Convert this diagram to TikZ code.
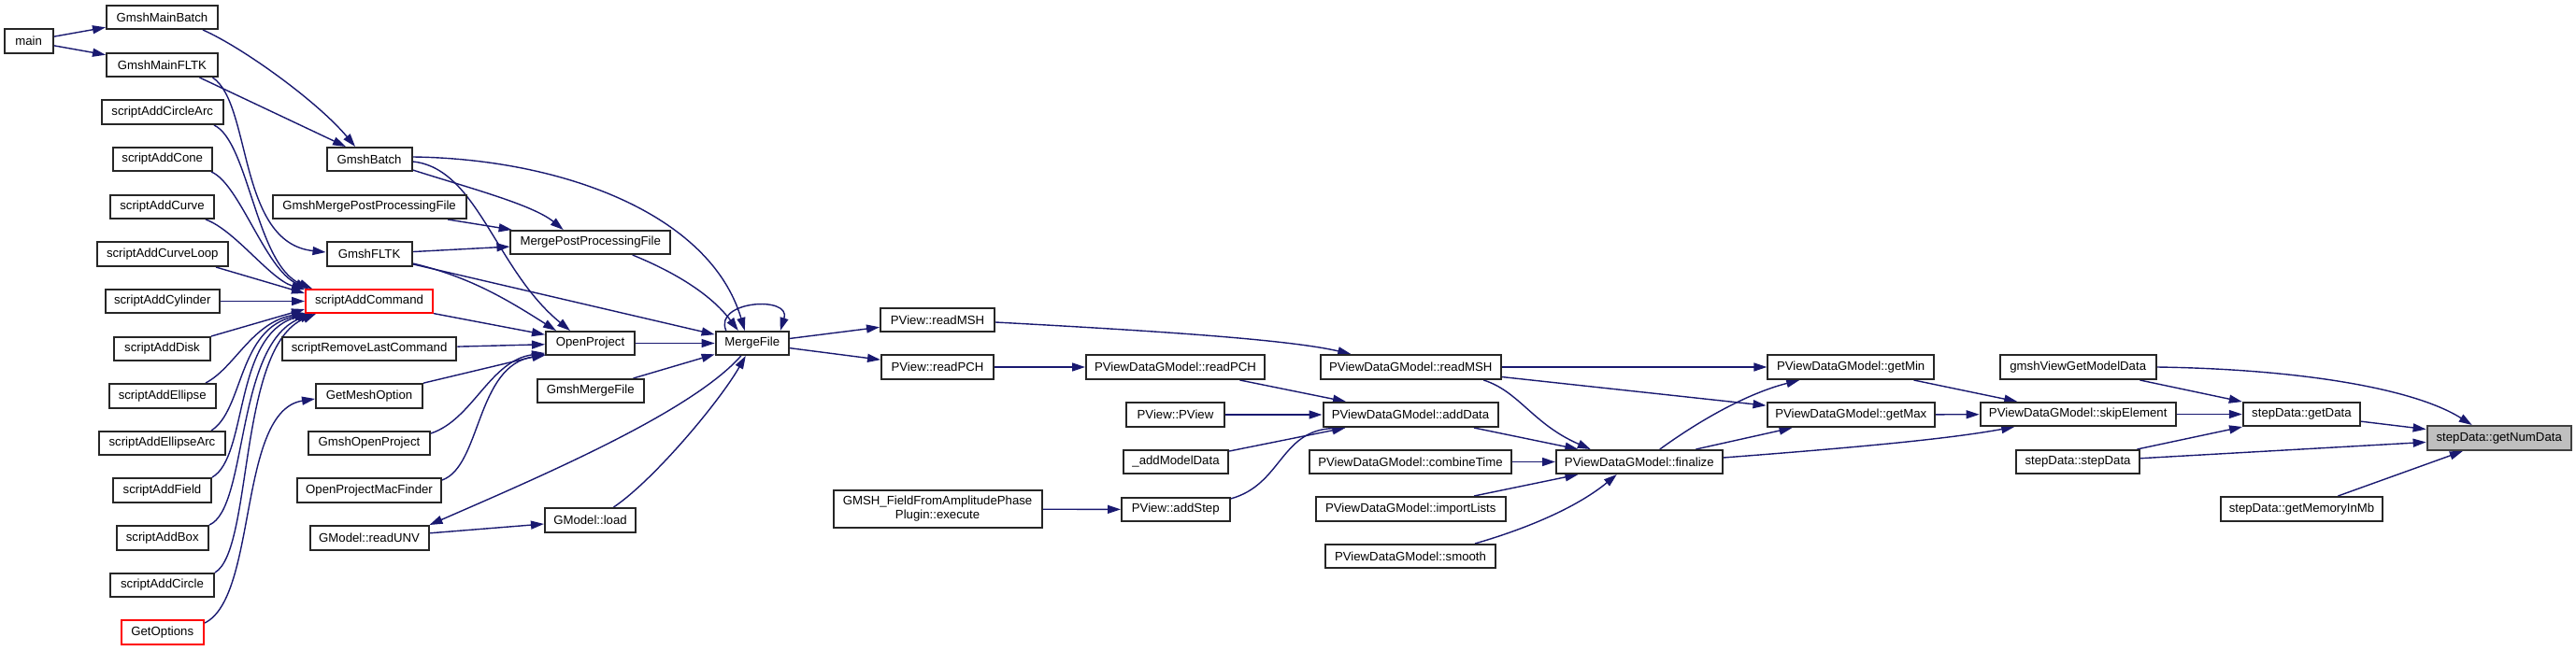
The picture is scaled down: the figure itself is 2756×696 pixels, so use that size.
\documentclass[tikz,border=0pt]{standalone}
\usepackage{fontspec}
\setmainfont{Liberation Sans}
\usetikzlibrary{arrows.meta}
\definecolor{edgeblue}{HTML}{191970}
\definecolor{boxgray}{HTML}{BFBFBF}
\pgfdeclarelayer{bg}
\pgfsetlayers{bg,main}
\tikzset{
  box/.style={draw=black!85, line width=1pt, fill=white, inner sep=0pt, align=center,
    font=\fontsize{6.6}{7.5}\selectfont, text=black},
  redbox/.style={draw=red},
  focus/.style={fill=boxgray, draw=black!75},
  e/.style={draw=edgeblue, line width=0.7pt, -{Triangle[length=7pt,width=4.5pt]}, fill=none}
}
\newcommand\bx[7][]{\node[box,#1,minimum width={(#5-#3)*0.5pt},minimum height={(#6-#4)*0.5pt}] (#2) at ({(#3+#5)/2},{(#4+#6)/2}) {#7};}
\begin{document}
\begin{tikzpicture}[x=0.5pt,y=-0.5pt]
\useasboundingbox (0,0) rectangle (2756,696);
% nodes
\bx{main}{4.5}{31}{56.7}{57}{main}
\bx{gmb}{114}{6}{233}{31}{GmshMainBatch}
\bx{gmf}{114}{57}{233}{82}{GmshMainFLTK}
\bx{sca}{108.5}{107}{239}{133}{scriptAddCircleArc}
\bx{scone}{120.5}{158}{227}{183}{scriptAddCone}
\bx{scurve}{118}{209}{229}{234}{scriptAddCurve}
\bx{scl}{103.6}{259}{244}{285}{scriptAddCurveLoop}
\bx{scyl}{112.5}{310}{235}{335}{scriptAddCylinder}
\bx{sdisk}{122}{361}{225}{386}{scriptAddDisk}
\bx{sell}{116.5}{411}{231}{437}{scriptAddEllipse}
\bx{sea}{106}{462}{241}{487}{scriptAddEllipseArc}
\bx{sfield}{121}{512}{226}{538}{scriptAddField}
\bx{sbox}{124.5}{563}{223}{589}{scriptAddBox}
\bx{scirc}{118}{614}{229}{639}{scriptAddCircle}
\bx[redbox]{getopt}{129.5}{664}{218}{690}{GetOptions}
\bx{gbatch}{349.5}{158}{440.6}{183}{GmshBatch}
\bx{gmppf}{291.5}{209}{498.6}{234}{GmshMergePostProcessingFile}
\bx{gfltk}{349.5}{259}{440.6}{285}{GmshFLTK}
\bx[redbox]{sac}{327}{310}{463}{335}{scriptAddCommand}
\bx{srlc}{301.8}{361}{488.4}{386}{scriptRemoveLastCommand}
\bx{gmo}{338}{411}{452}{437}{GetMeshOption}
\bx{gop}{330}{462}{460}{487}{GmshOpenProject}
\bx{opmf}{318}{512}{472}{538}{OpenProjectMacFinder}
\bx{runv}{331.7}{563}{458.5}{589}{GModel::readUNV}
\bx{mppf}{546.4}{247}{717}{272}{MergePostProcessingFile}
\bx{op}{584}{355}{679}{380}{OpenProject}
\bx{gmfile}{574.5}{406}{689}{431}{GmshMergeFile}
\bx{load}{583}{544}{680}{570}{GModel::load}
\bx{mf}{765.6}{355}{844}{380}{MergeFile}
\bx{pvmsh}{942}{330}{1064}{355}{PView::readMSH}
\bx{pvpch}{943}{380}{1063}{406}{PView::readPCH}
\bx{field}{891.5}{525}{1114.7}{565}{GMSH\_FieldFromAmplitudePhase\\Plugin::execute}
\bx{dpch}{1162}{380}{1353}{406}{PViewDataGModel::readPCH}
\bx{pvpv}{1205}{431}{1310}{457}{PView::PView}
\bx{amd}{1202}{482}{1314}{507}{\_addModelData}
\bx{pvstep}{1200}{533}{1315.5}{558}{PView::addStep}
\bx{dmsh}{1412.6}{380}{1606}{406}{PViewDataGModel::readMSH}
\bx{dadd}{1415.5}{431}{1602.5}{457}{PViewDataGModel::addData}
\bx{dcomb}{1401}{482}{1617}{507}{PViewDataGModel::combineTime}
\bx{dimp}{1408}{532}{1610.6}{558}{PViewDataGModel::importLists}
\bx{dsmooth}{1418}{583}{1600}{608}{PViewDataGModel::smooth}
\bx{dfin}{1665}{482}{1842.6}{507}{PViewDataGModel::finalize}
\bx{dmin}{1891.4}{380}{2069}{406}{PViewDataGModel::getMin}
\bx{dmax}{1890.5}{431}{2070}{457}{PViewDataGModel::getMax}
\bx{gvgmd}{2139.7}{380}{2306.7}{406}{gmshViewGetModelData}
\bx{skip}{2118.6}{431}{2327.8}{456}{PViewDataGModel::skipElement}
\bx{getdata}{2399.8}{431}{2525}{456}{stepData::getData}
\bx{sdsd}{2157}{482}{2289}{507}{stepData::stepData}
\bx[focus]{gnd}{2596.6}{456}{2750.8}{482}{stepData::getNumData}
\bx{gmem}{2376}{532}{2549}{558}{stepData::getMemoryInMb}
% edges
\begin{pgfonlayer}{bg}
\draw[e] (main) -- (gmb);
\draw[e] (main) -- (gmf);
\draw[e] ([shift={(43.5,0)}]gmb.south) .. controls +(43,19) and +(-40,-48) .. ([shift={(-15,0)}]gbatch.north);
\draw[e] ([shift={(40,0)}]gmf.south) -- ([shift={(-25,0)}]gbatch.north);
\draw[e] ([shift={(54,0)}]gmf.south) .. controls +(42,28) and +(-94.5,-10) .. ([shift={(0,-2)}]gfltk.west);
% script* -> scriptAddCommand
\draw[e] ([shift={(-11,0)}]sca.south east) .. controls +(37,17) and +(-60,-25) .. ([shift={(8,0)}]sac.north west);
\draw[e] ([shift={(-2,0)}]scone.south east) .. controls +(30,12) and +(-46,-20) .. ([shift={(4,0)}]sac.north west);
\draw[e] ([shift={(-10,0)}]scurve.south east) .. controls +(31,11) and +(-37,-11) .. ([shift={(0,1)}]sac.north west);
\draw[e] ([shift={(-14,0)}]scl.south east) -- ([shift={(0,5)}]sac.north west);
\draw[e] (scyl.east) -- (sac.west);
\draw[e] (sdisk.north east) -- ([shift={(0,-5)}]sac.south west);
\draw[e] ([shift={(-12,0)}]sell.north east) .. controls +(31,-16) and +(-57,11) .. ([shift={(0,-1)}]sac.south west);
\draw[e] ([shift={(-16,0)}]sea.north east) .. controls +(35,-22) and +(-75,15) .. ([shift={(3,0)}]sac.south west);
\draw[e] (sfield.north east) .. controls +(39,-22) and +(-83,20) .. ([shift={(6,0)}]sac.south west);
\draw[e] (sbox.north east) .. controls +(42,-18) and +(-84,30) .. ([shift={(9,0)}]sac.south west);
\draw[e] (scirc.north east) .. controls +(41,-24) and +(-84,35) .. ([shift={(12,0)}]sac.south west);
\draw[e] ([shift={(0,4)}]getopt.north east) .. controls +(57,-28) and +(-83,13) .. ([shift={(0,3)}]gmo.west);
% GmshBatch
\draw[e] ([shift={(0,-2)}]gbatch.south east) .. controls +(59.4,19) and +(-33,-27) .. ([shift={(-29,0)}]mppf.north);
\draw[e] ([shift={(0,2.5)}]gbatch.east) .. controls +(69.4,7) and +(-80,-65) .. ([shift={(-21.5,0)}]op.north);
\draw[e] ([shift={(0,-2.5)}]gbatch.east) .. controls +(159.4,2) and +(-37,-125) .. ([shift={(-8,0)}]mf.north);
\draw[e] (gmppf) -- (mppf);
\draw[e] (gfltk) -- (mppf);
\draw[e] ([shift={(0,-4)}]gfltk.south east) .. controls +(59.4,14) and +(-55,-35) .. ([shift={(-36.5,0)}]op.north);
\draw[e] (gfltk) -- (mf);
\draw[e] (sac) -- (op);
\draw[e] (srlc) -- (op);
\draw[e] (gmo) -- (op);
\draw[e] ([shift={(0,3)}]gop.north east) .. controls +(45,-15) and +(-59,8) .. ([shift={(0,-3)}]op.south west);
\draw[e] ([shift={(0,3)}]opmf.north east) .. controls +(42,-15) and +(-75,11) .. ([shift={(1,-1)}]op.south west);
\draw[e] ([shift={(45,0)}]mppf.south) .. controls +(43,17.5) and +(-30,-40) .. ([shift={(-15,0)}]mf.north);
\draw[e] (op) -- (mf);
\draw[e] (gmfile) -- (mf);
\draw[e] ([shift={(-28,0)}]mf.north) .. controls +(-14,-32) and +(12,-38) .. ([shift={(30,0)}]mf.north);
\draw[e] ([shift={(-12,0)}]mf.south) .. controls +(-53,60) and +(121.5,-53) .. (runv.north east);
\draw[e] (runv) -- (load);
\draw[e] ([shift={(25,0)}]load.north) .. controls +(43,-29) and +(-28,49) .. ([shift={(-7,0)}]mf.south);
% PView
\draw[e] (mf) -- (pvmsh);
\draw[e] (mf) -- (pvpch);
\draw[e] ([shift={(0,2.5)}]pvmsh.east) .. controls +(186,10) and +(-65,-15) .. ([shift={(-64,0)}]dmsh.north);
\draw[e] (pvpch) -- (dpch);
\draw[e] (dpch) -- (dadd);
\draw[e] (pvpv) -- (dadd);
\draw[e] (amd) -- (dadd);
\draw[e] ([shift={(0,2)}]pvstep.north east) .. controls +(55,-15) and +(-70,3) .. ([shift={(25,0)}]dadd.south west);
\draw[e] (field) -- (pvstep);
% PViewDataGModel
\draw[e] (dmsh) -- (dmin);
\draw[e] (dmsh) -- (dmax);
\draw[e] ([shift={(78,0)}]dmsh.south) .. controls +(38,12) and +(-62,-27) .. ([shift={(-52,0)}]dfin.north);
\draw[e] (dadd) -- (dfin);
\draw[e] (dcomb) -- (dfin);
\draw[e] (dimp) -- (dfin);
\draw[e] ([shift={(69,0)}]dsmooth.north) .. controls +(62,-18) and +(-40,33) .. ([shift={(-24,0)}]dfin.south);
\draw[e] ([shift={(22,0)}]dfin.north) .. controls +(44,-32) and +(-55,14) .. ([shift={(-55,0)}]dmin.south);
\draw[e] (dfin) -- (dmax);
\draw[e] ([shift={(0,-4.5)}]dfin.east) .. controls +(157.4,-12) and +(-65,12) .. ([shift={(-68,0)}]skip.south);
\draw[e] (dmin) -- (skip);
\draw[e] (dmax) -- (skip);
\draw[e] (skip) -- (getdata);
\draw[e] (gvgmd) -- (getdata);
\draw[e] (gvgmd.east) .. controls +(143,2) and +(-65,-41) .. ([shift={(-29,0)}]gnd.north);
\draw[e] (sdsd) -- (getdata);
\draw[e] (getdata) -- (gnd);
\draw[e] (sdsd) -- (gnd);
\draw[e] (gmem) -- (gnd);
\end{pgfonlayer}
\end{tikzpicture}
\end{document}
